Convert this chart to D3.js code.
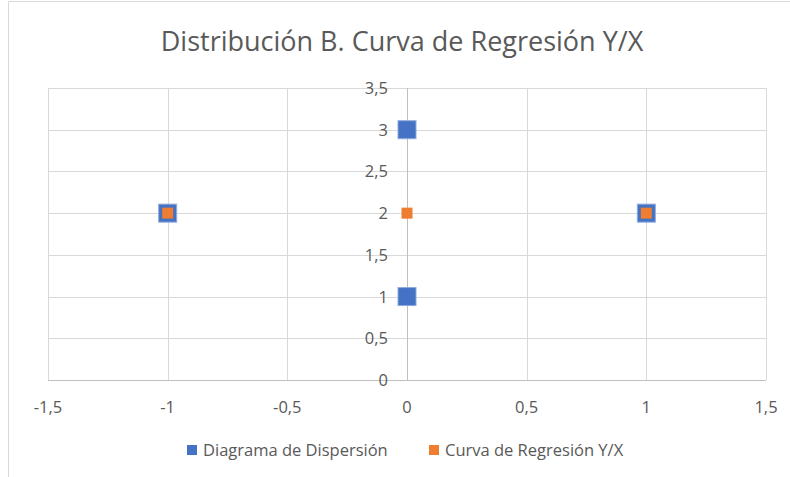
<!DOCTYPE html>
<html>
<head>
<meta charset="utf-8">
<script src="https://cdn.jsdelivr.net/npm/d3@7"></script>
<style>
  body { margin: 0; background: #fff; }
  svg text { font-family: "Open Sans", "Noto Sans", sans-serif; fill: #595959; }
</style>
</head>
<body>
<div id="chart"></div>
<script>
// scatter points (blue) and regression points (orange)
const scatterX = [-1, 0, 0, 1];
const scatterY = [2, 3, 1, 2];
const regX = [-1, 0, 1];
const regY = [2, 2, 2];
const xTicks = [-1.5, -1, -0.5, 0, 0.5, 1, 1.5];
const yTicks = [0, 0.5, 1, 1.5, 2, 2.5, 3, 3.5];
const seriesNames = ["Diagrama de Dispersión", "Curva de Regresión Y/X"];
const colors = ["#4472C4", "#ED7D31"];

const W = 790, H = 477;
const margin = {top: 88, right: 24, bottom: 97, left: 48};
const width = W - margin.left - margin.right,
      height = H - margin.top - margin.bottom;

const fmt = d => String(d).replace(".", ",");

const svg = d3.select("#chart").append("svg")
  .attr("width", W).attr("height", H);

// outer frame (cropped at right/bottom)
svg.append("path")
  .attr("d", "M8.5," + H + "V1.5H" + W)
  .attr("fill", "none").attr("stroke", "#d9d9d9");

svg.append("text")
  .attr("x", 402).attr("y", 51)
  .attr("text-anchor", "middle")
  .style("font-size", "27px")
  .text("Distribución B. Curva de Regresión Y/X");

const g = svg.append("g")
  .attr("transform", "translate(" + margin.left + "," + margin.top + ")");

const x = d3.scaleLinear().domain([-1.5, 1.5]).range([0, width]);
const y = d3.scaleLinear().domain([0, 3.5]).range([height, 0]);

// gridlines
g.append("g").selectAll("line").data(xTicks).enter().append("line")
  .attr("x1", d => Math.round(x(d)) + 0.5).attr("x2", d => Math.round(x(d)) + 0.5)
  .attr("y1", 0).attr("y2", height)
  .attr("stroke", "#d9d9d9");
g.append("g").selectAll("line").data(yTicks).enter().append("line")
  .attr("y1", d => Math.round(y(d)) + 0.5).attr("y2", d => Math.round(y(d)) + 0.5)
  .attr("x1", 0).attr("x2", width)
  .attr("stroke", "#d9d9d9");

// axes lines
g.append("line")
  .attr("x1", 0).attr("x2", width)
  .attr("y1", Math.round(y(0)) + 0.5).attr("y2", Math.round(y(0)) + 0.5)
  .attr("stroke", "#bfbfbf");
g.append("line")
  .attr("x1", Math.round(x(0)) + 0.5).attr("x2", Math.round(x(0)) + 0.5)
  .attr("y1", 0).attr("y2", height)
  .attr("stroke", "#bfbfbf");

// tick labels
g.append("g").selectAll("text").data(xTicks).enter().append("text")
  .attr("x", d => x(d)).attr("y", height + 33)
  .attr("text-anchor", "middle")
  .style("font-size", "16.5px")
  .text(fmt);
g.append("g").selectAll("text").data(yTicks).enter().append("text")
  .attr("x", x(0) - 19).attr("y", d => y(d) + 6)
  .attr("text-anchor", "end")
  .style("font-size", "16.5px")
  .text(fmt);

// blue markers
const bs = 18;
g.append("g").selectAll("rect").data(scatterX.map((d, i) => [d, scatterY[i]])).enter()
  .append("rect")
  .attr("x", d => x(d[0]) - bs / 2).attr("y", d => y(d[1]) - bs / 2)
  .attr("width", bs).attr("height", bs)
  .attr("fill", colors[0]).attr("stroke", "#8faadc").attr("stroke-width", 1);

// orange markers
const os = 11;
g.append("g").selectAll("rect").data(regX.map((d, i) => [d, regY[i]])).enter()
  .append("rect")
  .attr("x", d => x(d[0]) - os / 2).attr("y", d => y(d[1]) - os / 2)
  .attr("width", os).attr("height", os)
  .attr("fill", colors[1]);

// legend
const legX = [187, 429];
const leg = svg.append("g").selectAll("g").data(seriesNames).enter().append("g")
  .attr("transform", (d, i) => "translate(" + legX[i] + ",445)");
leg.append("rect").attr("width", 10).attr("height", 10)
  .attr("fill", (d, i) => colors[i]);
leg.append("text").attr("x", 16).attr("y", 11)
  .style("font-size", "16.5px")
  .text(d => d);
</script>
</body>
</html>
